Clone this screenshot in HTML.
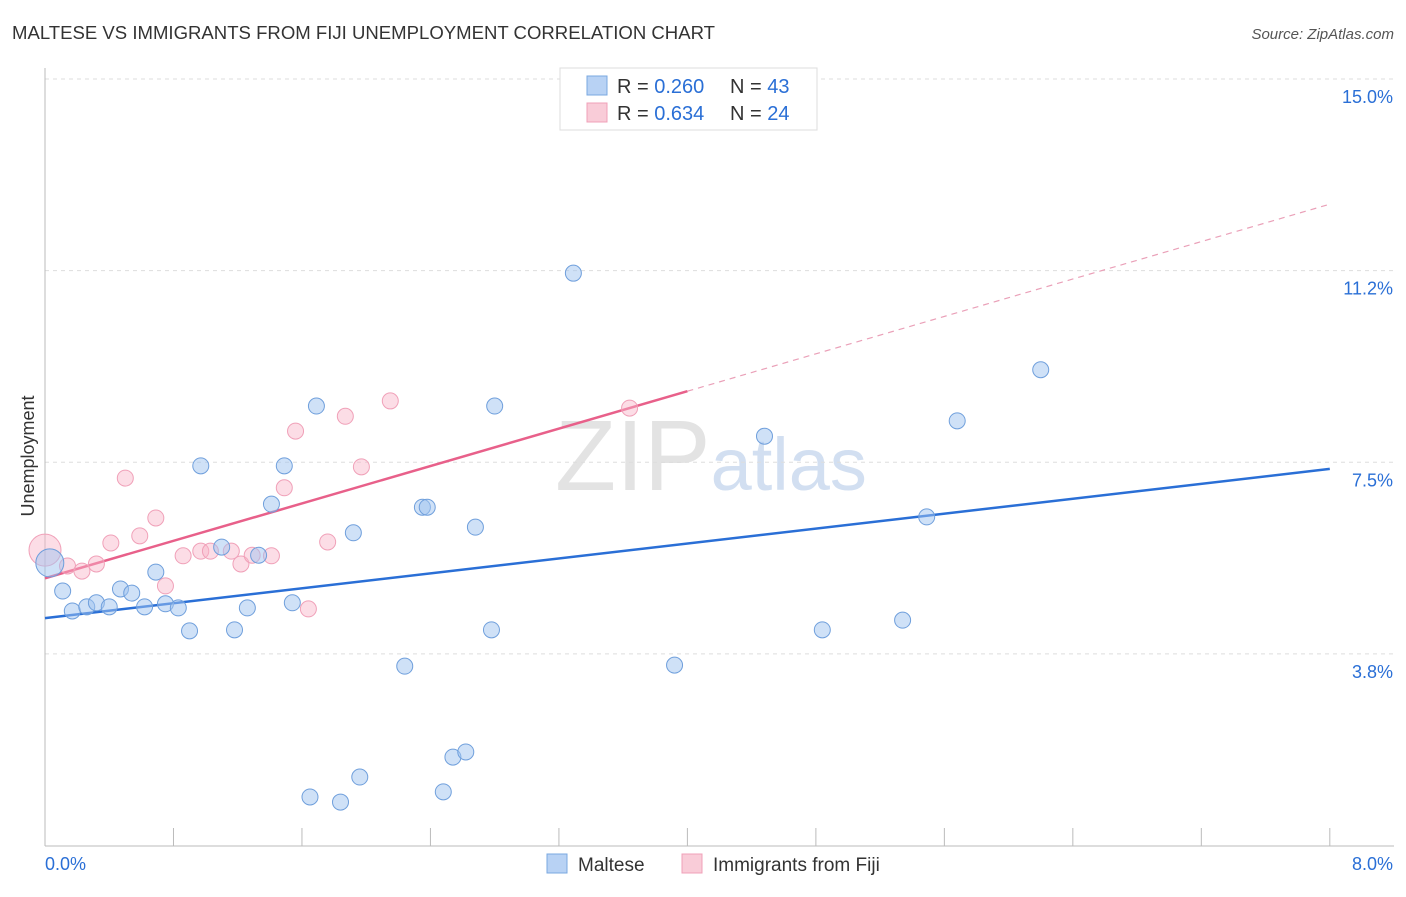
<!DOCTYPE html>
<html><head><meta charset="utf-8">
<style>
body{margin:0;background:#fff;font-family:"Liberation Sans",sans-serif;}
svg text{font-family:"Liberation Sans",sans-serif;}
</style></head>
<body>
<svg id="chart" width="1406" height="892" viewBox="0 0 1406 892" xmlns="http://www.w3.org/2000/svg">
<text x="12" y="39" font-size="18" fill="#333" textLength="703" lengthAdjust="spacingAndGlyphs">MALTESE VS IMMIGRANTS FROM FIJI UNEMPLOYMENT CORRELATION CHART</text>
<text x="1394" y="39" font-size="15" fill="#555" text-anchor="end" font-style="italic">Source: ZipAtlas.com</text>
<text x="555" y="490" font-size="100" fill="#ddd" font-family="Liberation Serif,serif" opacity="0.8">ZIP<tspan fill="#c8d8ee" font-family="Liberation Sans,sans-serif" font-size="74">atlas</tspan></text>
<g id="grid"></g>
<g id="axes"></g>
<text transform="translate(34,456) rotate(-90)" font-size="18" fill="#333" text-anchor="middle">Unemployment</text>
<g id="lines"></g>
<g id="points"></g>
<g>
<rect x="560" y="68" width="257" height="62" fill="#fff" stroke="#ddd"/>
<rect x="587" y="76" width="20" height="19" fill="#b8d2f4" stroke="#7aa8e0"/>
<text x="617" y="93" font-size="20" fill="#333">R = <tspan fill="#2a6fd6">0.260</tspan></text>
<text x="730" y="93" font-size="20" fill="#333">N = <tspan fill="#2a6fd6">43</tspan></text>
<rect x="587" y="103" width="20" height="19" fill="#f9ccd8" stroke="#f0a0b8"/>
<text x="617" y="120" font-size="20" fill="#333">R = <tspan fill="#2a6fd6">0.634</tspan></text>
<text x="730" y="120" font-size="20" fill="#333">N = <tspan fill="#2a6fd6">24</tspan></text>
</g>
<g>
<rect x="547" y="854" width="20" height="19" fill="#b8d2f4" stroke="#7aa8e0"/>
<text x="578" y="871" font-size="19" fill="#333">Maltese</text>
<rect x="682" y="854" width="20" height="19" fill="#f9ccd8" stroke="#f0a0b8"/>
<text x="713" y="871" font-size="19" fill="#333">Immigrants from Fiji</text>
</g>
</svg>
<script>
const blueX=[0.03,0.11,0.17,0.26,0.32,0.40,0.47,0.54,0.62,0.69,0.75,0.83,0.90,0.97,1.10,1.18,1.26,1.33,1.41,1.49,1.54,1.69,1.65,1.84,1.92,1.96,2.24,2.35,2.38,2.48,2.54,2.62,2.68,2.78,2.80,3.29,3.92,4.48,4.84,5.34,5.49,5.68,6.20];
const blueY=[5.53,4.98,4.59,4.67,4.75,4.67,5.02,4.94,4.67,5.35,4.73,4.65,4.20,7.43,5.84,4.22,4.65,5.68,6.68,7.43,4.75,8.60,0.95,0.85,6.12,1.34,3.51,6.62,6.62,1.05,1.73,1.83,6.23,4.22,8.60,11.20,3.53,8.01,4.22,4.41,6.43,8.31,9.31];
const pinkX=[0.0,0.14,0.23,0.32,0.41,0.50,0.59,0.69,0.75,0.86,0.97,1.03,1.16,1.22,1.29,1.41,1.49,1.56,1.64,1.76,1.87,1.97,2.15,3.64];
const pinkY=[5.78,5.47,5.37,5.51,5.92,7.19,6.06,6.41,5.08,5.67,5.76,5.76,5.76,5.51,5.68,5.67,7.00,8.11,4.63,5.94,8.40,7.41,8.70,8.56];
const blueLine=[4.45,7.37];
const pinkLine=[5.23,12.55];
const pinkSolidEnd=4.0;
const yTicks=[15.0,11.25,7.5,3.75];
const yTickLabels=["15.0%","11.2%","7.5%","3.8%"];
const xTicks=[0,0.8,1.6,2.4,3.2,4.0,4.8,5.6,6.4,7.2,8.0];
const NS="http://www.w3.org/2000/svg";
const sx=v=>45+v*160.6;
const sy=v=>79+(15-v)*51.1;
function mk(tag,attrs,parent){const e=document.createElementNS(NS,tag);for(const k in attrs)e.setAttribute(k,attrs[k]);document.getElementById(parent).appendChild(e);return e;}
yTicks.forEach((t,i)=>{
 const l=mk('line',{x1:45,x2:1394,y1:sy(t),y2:sy(t),stroke:'#ddd','stroke-dasharray':'4,4'},'grid');
 
 
 const tx=mk('text',{x:1393,y:sy(t)+24,'font-size':18,fill:'#2a6fd6','text-anchor':'end'},'axes');
 tx.textContent=yTickLabels[i];
 
 
});
const ax=mk('line',{x1:45,x2:45,y1:68,y2:846,stroke:'#bbb'},'axes');


const bx=mk('line',{x1:45,x2:1394,y1:846,y2:846,stroke:'#bbb'},'axes');


xTicks.forEach(t=>{
 const l=mk('line',{x1:sx(t),x2:sx(t),y1:828,y2:846,stroke:'#bbb'},'axes');
 
 
});
const xl0=mk('text',{x:45,y:870,'font-size':18,fill:'#2a6fd6'},'axes');xl0.textContent='0.0%';


const xl1=mk('text',{x:1393,y:870,'font-size':18,fill:'#2a6fd6','text-anchor':'end'},'axes');xl1.textContent='8.0%';


const bl=mk('line',{x1:sx(0),y1:sy(blueLine[0]),x2:sx(8),y2:sy(blueLine[1]),stroke:'#2a6fd6','stroke-width':2.5},'lines');


const pAt=x=>pinkLine[0]+(pinkLine[1]-pinkLine[0])*x/8;
const pl=mk('line',{x1:sx(0),y1:sy(pAt(0)),x2:sx(pinkSolidEnd),y2:sy(pAt(pinkSolidEnd)),stroke:'#e8608a','stroke-width':2.5},'lines');


const pd=mk('line',{x1:sx(pinkSolidEnd),y1:sy(pAt(pinkSolidEnd)),x2:sx(8),y2:sy(pAt(8)),stroke:'#eaa0b8','stroke-width':1.2,'stroke-dasharray':'6,5'},'lines');


pinkX.forEach((x,i)=>{
 const c=mk('circle',{cx:sx(x),cy:sy(pinkY[i]),r:i===0?16:8,fill:'rgba(248,180,200,0.45)',stroke:'#f0a0b8','stroke-width':1},'points');
 
 
});
blueX.forEach((x,i)=>{
 const c=mk('circle',{cx:sx(x),cy:sy(blueY[i]),r:i===0?14:8,fill:'rgba(160,196,240,0.5)',stroke:'#6f9fdc','stroke-width':1},'points');
 
 
});
</script>
</body></html>
